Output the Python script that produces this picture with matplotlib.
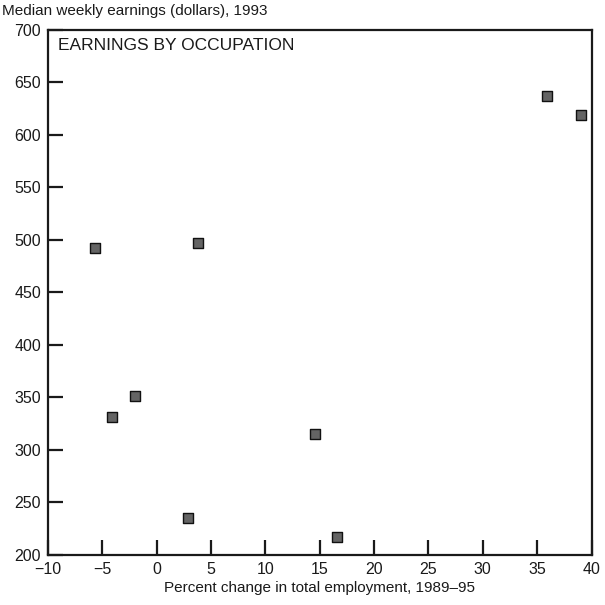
import matplotlib.pyplot as plt

# Percent change in employment 1989-95 vs median weekly earnings 1993
pct_change = [-5.7, 3.8, -2.0, -4.1, 2.9, 16.6, 14.6, 35.9, 39.0]
earnings = [492, 497, 351, 331, 235, 217, 315, 637, 619]

x_ticks = [-10, -5, 0, 5, 10, 15, 20, 25, 30, 35, 40]
y_ticks = [200, 250, 300, 350, 400, 450, 500, 550, 600, 650, 700]

font = ["Liberation Sans", "DejaVu Sans"]
ink = "#1a1a1a"

fig = plt.figure(figsize=(6.05, 6.05), dpi=100)
ax = fig.add_axes([0.0793, 0.0826, 0.8984, 0.8686])

ax.scatter(pct_change, earnings, marker="s", s=62, color="#646464",
           edgecolors="#111111", linewidths=1.0, zorder=3)

ax.set_xlim(-10, 40)
ax.set_ylim(200, 700)
ax.set_xticks(x_ticks)
ax.set_yticks(y_ticks)
ax.set_xticklabels(["\u2212" + str(-t) if t < 0 else str(t) for t in x_ticks],
                   family=font, fontsize=11.5, color=ink)
ax.set_yticklabels([str(t) for t in y_ticks], family=font, fontsize=11.5, color=ink)
ax.tick_params(axis="both", direction="in", length=11, width=1.6, color=ink)
ax.tick_params(axis="x", pad=5)
ax.tick_params(axis="y", pad=5)
for s in ax.spines.values():
    s.set_linewidth(1.6)
    s.set_color(ink)

ax.text(0.018, 0.983, "EARNINGS BY OCCUPATION", transform=ax.transAxes,
        ha="left", va="top", fontsize=12.5, family=font, color=ink)

fig.text(0.003, 0.993, "Median weekly earnings (dollars), 1993", ha="left", va="top",
         family=font, fontsize=11, color=ink)
ax.set_xlabel("Percent change in total employment, 1989\u201395", family=font,
              fontsize=11, color=ink, labelpad=3)

fig.savefig("out.png", dpi=100)
